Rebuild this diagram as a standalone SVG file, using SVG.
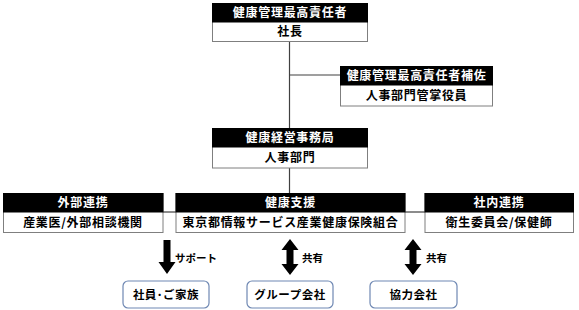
<svg xmlns="http://www.w3.org/2000/svg" width="579" height="310" viewBox="0 0 579 310">
<style>
.hd{fill:#000;stroke:#000;stroke-width:1}
.bd{fill:#fff;stroke:#7f7f7f;stroke-width:1}
.ht{fill:#fff;font-family:"Noto Sans CJK JP","Noto Sans",sans-serif;font-size:12px;font-weight:bold;text-anchor:middle;letter-spacing:0.7px}
.bt{fill:#000;font-family:"Noto Sans CJK JP","Noto Sans",sans-serif;font-size:12px;font-weight:bold;text-anchor:middle;letter-spacing:0.7px}
.ln{stroke:#404040;stroke-width:1.2;fill:none}
.rb{fill:#fff;stroke:#6f88b3;stroke-width:1.2}
.rt{fill:#000;font-family:"Noto Sans CJK JP","Noto Sans",sans-serif;font-size:11.5px;font-weight:bold;text-anchor:middle;letter-spacing:0.5px}
.lb{fill:#000;font-family:"Noto Sans CJK JP","Noto Sans",sans-serif;font-size:10.5px;font-weight:bold}
.ar{fill:#000}
</style>
<g id="connectors">
<path class="ln" d="M289.5 41 V128"/>
<path class="ln" d="M289.5 75 H340"/>
<path class="ln" d="M289.5 168 V193"/>
<path class="ln" d="M163 212 H176"/>
<path class="ln" d="M405 212 H425"/>
<path class="ar" d="M163.5 240 H170.5 V262 H175.5 L167 274 L158.5 262 H163.5 Z"/>
<path class="ar" d="M290 239 L298.5 250 H293.5 V264 H298.5 L290 275 L281.5 264 H286.5 V250 H281.5 Z"/>
<path class="ar" d="M413 239 L421.5 250 H416.5 V264 H421.5 L413 275 L404.5 264 H409.5 V250 H404.5 Z"/>
<text class="lb" x="175" y="262">サポート</text>
<text class="lb" x="302" y="262">共有</text>
<text class="lb" x="426" y="262">共有</text>
</g>
<g id="ceo">
<rect class="bd" x="212.5" y="3.5" width="155" height="38"/>
<rect class="hd" x="212.5" y="3.5" width="155" height="18.5"/>
<text class="ht" x="290" y="17">健康管理最高責任者</text>
<text class="bt" x="290" y="36">社長</text>
</g>
<g id="ceo-assistant">
<rect class="bd" x="340.5" y="66.5" width="152" height="39.5"/>
<rect class="hd" x="340.5" y="66.5" width="152" height="18.5"/>
<text class="ht" x="416.5" y="80">健康管理最高責任者補佐</text>
<text class="bt" x="416.5" y="100">人事部門管掌役員</text>
</g>
<g id="office">
<rect class="bd" x="212.5" y="128.5" width="155" height="39.5"/>
<rect class="hd" x="212.5" y="128.5" width="155" height="18.5"/>
<text class="ht" x="290" y="142">健康経営事務局</text>
<text class="bt" x="290" y="162">人事部門</text>
</g>
<g id="external">
<rect class="bd" x="3.5" y="193.5" width="159.5" height="39"/>
<rect class="hd" x="3.5" y="193.5" width="159.5" height="18.5"/>
<text class="ht" x="83" y="207">外部連携</text>
<text class="bt" x="83" y="227">産業医/外部相談機関</text>
</g>
<g id="support">
<rect class="bd" x="176" y="193.5" width="229" height="39"/>
<rect class="hd" x="176" y="193.5" width="229" height="18.5"/>
<text class="ht" x="290.5" y="207">健康支援</text>
<text class="bt" x="290.5" y="227">東京都情報サービス産業健康保険組合</text>
</g>
<g id="internal">
<rect class="bd" x="425" y="193.5" width="148.5" height="39"/>
<rect class="hd" x="425" y="193.5" width="148.5" height="18.5"/>
<text class="ht" x="499" y="207">社内連携</text>
<text class="bt" x="499" y="227">衛生委員会/保健師</text>
</g>
<g id="employees">
<rect class="rb" x="123" y="281" width="86" height="27" rx="5"/>
<text class="rt" x="166" y="298.5">社員･ご家族</text>
</g>
<g id="group">
<rect class="rb" x="247" y="281" width="86" height="27" rx="5"/>
<text class="rt" x="290" y="298.5">グループ会社</text>
</g>
<g id="partners">
<rect class="rb" x="370" y="281" width="87" height="27" rx="5"/>
<text class="rt" x="413.5" y="298.5">協力会社</text>
</g>
</svg>
